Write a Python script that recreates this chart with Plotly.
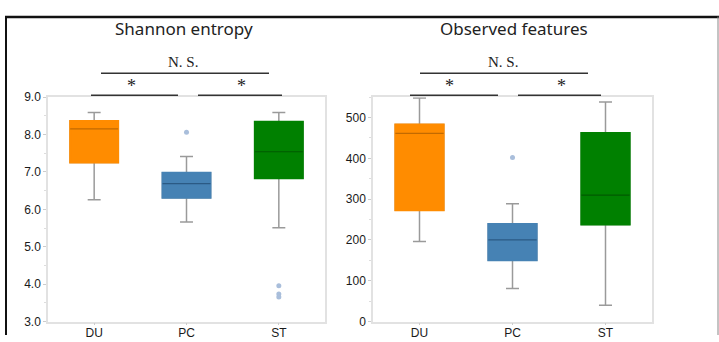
import plotly.graph_objects as go

W, H = 719, 342

categories = ["DU", "PC", "ST"]
box_colors = ["#FF8C00", "#4682B4", "#008000"]
median_colors = ["#c26a00", "#2b5a84", "#005a00"]

# Shannon entropy (left panel)
sh_lower = [6.26, 5.66, 5.51]
sh_q1 = [7.25, 6.31, 6.83]
sh_median = [8.15, 6.69, 7.54]
sh_q3 = [8.36, 6.98, 8.34]
sh_upper = [8.59, 7.41, 8.59]
sh_outlier_cat = ["PC", "ST", "ST", "ST"]
sh_outlier_val = [8.06, 3.96, 3.74, 3.66]

# Observed features (right panel)
of_lower = [196, 81, 40]
of_q1 = [273, 150, 238]
of_median = [461, 200, 310]
of_q3 = [483, 239, 462]
of_upper = [548, 289, 538]
of_outlier_cat = ["PC"]
of_outlier_val = [402]

titles = ["Shannon entropy", "Observed features"]
sig_labels = ["N. S.", "*", "*"]

fig = go.Figure()

def add_panel(xa, ya, lower, q1, med, q3, upper, out_cat, out_val):
    for i, c in enumerate(categories):
        # whiskers layer
        fig.add_trace(go.Box(
            x=[c], q1=[q1[i]], median=[med[i]], q3=[q3[i]],
            lowerfence=[lower[i]], upperfence=[upper[i]],
            width=0.52, whiskerwidth=0.27,
            line=dict(color="#9a9a9a", width=1.5),
            fillcolor="rgba(0,0,0,0)",
            xaxis=xa, yaxis=ya, showlegend=False, hoverinfo="skip"))
        # body layer
        fig.add_trace(go.Box(
            x=[c], q1=[q1[i]], median=[med[i]], q3=[q3[i]],
            lowerfence=[q1[i]], upperfence=[q3[i]],
            width=0.52, whiskerwidth=0,
            line=dict(color=box_colors[i], width=2),
            fillcolor=box_colors[i],
            xaxis=xa, yaxis=ya, showlegend=False, hoverinfo="skip"))
        # median layer
        fig.add_trace(go.Box(
            x=[c], q1=[med[i]], median=[med[i]], q3=[med[i]],
            lowerfence=[med[i]], upperfence=[med[i]],
            width=0.52, whiskerwidth=0,
            line=dict(color=median_colors[i], width=1.2),
            fillcolor="rgba(0,0,0,0)",
            xaxis=xa, yaxis=ya, showlegend=False, hoverinfo="skip"))
    fig.add_trace(go.Scatter(
        x=out_cat, y=out_val, mode="markers",
        marker=dict(color="#a9bedb", size=5),
        xaxis=xa, yaxis=ya, showlegend=False, hoverinfo="skip"))

add_panel("x", "y", sh_lower, sh_q1, sh_median, sh_q3, sh_upper, sh_outlier_cat, sh_outlier_val)
add_panel("x2", "y2", of_lower, of_q1, of_median, of_q3, of_upper, of_outlier_cat, of_outlier_val)

tickfont = dict(family="Liberation Sans, Arial, sans-serif", size=12, color="#1a1a1a")
frame = dict(showline=True, mirror=True, linecolor="#e2e2e2", linewidth=1.5,
             showgrid=False, zeroline=False, tickfont=tickfont)
yframe = dict(ticks="outside", ticklen=3, tickcolor="#cccccc", **frame)
xframe = dict(ticks="outside", ticklen=2, tickcolor="#cccccc", ticklabelstandoff=-3, **frame)

ydom = [1 - 328 / H, 1 - 94 / H]
fig.update_layout(
    width=W, height=H,
    margin=dict(l=0, r=0, t=0, b=0),
    paper_bgcolor="white", plot_bgcolor="white",
    boxmode="overlay",
    xaxis=dict(domain=[48 / W, 325 / W], anchor="y", type="category",
               categoryorder="array", categoryarray=categories,
               range=[-0.5, 2.5], **xframe),
    yaxis=dict(domain=ydom, anchor="x", range=[3, 9], dtick=1, tickformat=".1f",
               minor=dict(dtick=0.5, ticks="outside", ticklen=2, tickcolor="#dddddd"),
               **yframe),
    xaxis2=dict(domain=[373 / W, 652 / W], anchor="y2", type="category",
                categoryorder="array", categoryarray=categories,
                range=[-0.5, 2.5], **xframe),
    yaxis2=dict(domain=ydom, anchor="x2", range=[0, 550], dtick=100,
                minor=dict(dtick=50, ticks="outside", ticklen=2, tickcolor="#dddddd"),
                **yframe),
)

def px(x):
    return x / W

def py(y):
    return 1 - y / H

annotations = []
shapes = []

title_pos = [(184, 22), (514, 22)]
for t, (x, y) in zip(titles, title_pos):
    annotations.append(dict(text=t, x=px(x), y=py(y), xref="paper", yref="paper",
                            showarrow=False, xanchor="center", yanchor="middle",
                            font=dict(family="Noto Sans, sans-serif", size=17, color="#222")))

# significance brackets: (label x, label y, line x0, x1, line y)
brackets = [
    (183, 57, 101, 269, 69), (131, 82, 91, 178, 92), (241, 82, 198, 282, 92),
    (503, 57, 420, 588, 69), (449, 82, 410, 498, 92), (561, 82, 518, 601, 92),
]
for k, (lx, ly, x0, x1, yl) in enumerate(brackets):
    lab = sig_labels[k % 3]
    annotations.append(dict(text=lab, x=px(lx), y=py(ly), xref="paper", yref="paper",
                            showarrow=False, xanchor="center", yanchor="middle",
                            font=dict(family="Liberation Serif, Times New Roman, serif",
                                      size=15 if lab != "*" else 18, color="#222")))
    shapes.append(dict(type="line", xref="paper", yref="paper",
                       x0=px(x0), x1=px(x1), y0=py(yl), y1=py(yl),
                       line=dict(color="#333", width=1.5)))

# outer black border (left, top, right)
shapes.append(dict(type="line", xref="paper", yref="paper", x0=px(6), x1=px(6),
                   y0=0, y1=py(10), line=dict(color="#111", width=2)))
shapes.append(dict(type="line", xref="paper", yref="paper", x0=px(5), x1=1,
                   y0=py(10.5), y1=py(10.5), line=dict(color="#111", width=2.5)))
shapes.append(dict(type="line", xref="paper", yref="paper", x0=px(718), x1=px(718),
                   y0=0, y1=py(10), line=dict(color="#888", width=1)))

fig.update_layout(annotations=annotations, shapes=shapes)
fig.write_html("out.html", config={"displayModeBar": False},
               post_script="document.body.style.margin='0';document.body.style.overflow='hidden';")
